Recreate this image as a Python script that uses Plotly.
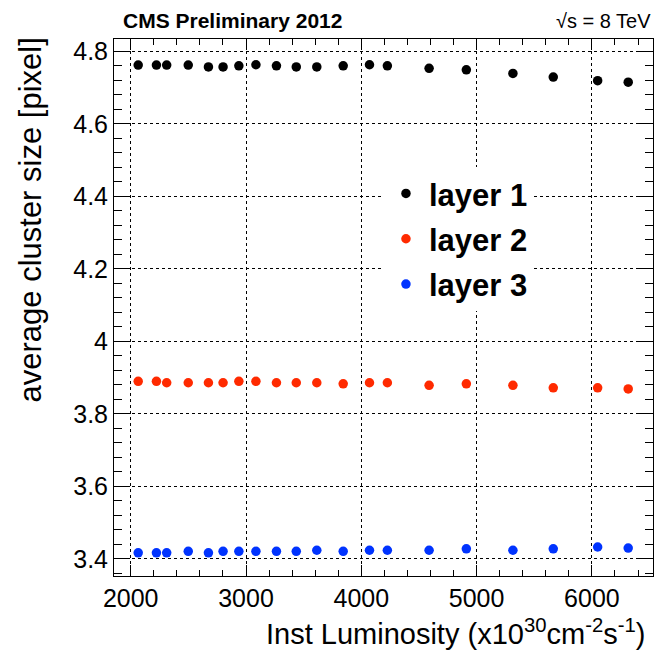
import plotly.graph_objects as go

lumi = [2065, 2223, 2312, 2499, 2674, 2801, 2938, 3086, 3264, 3436,
        3614, 3843, 4071, 4226, 4588, 4911, 5315, 5665, 6050, 6315]
layer1 = [4.762, 4.762, 4.762, 4.762, 4.757, 4.757, 4.760, 4.763, 4.760, 4.757,
          4.757, 4.760, 4.763, 4.760, 4.753, 4.749, 4.739, 4.729, 4.719, 4.715]
layer2 = [3.890, 3.890, 3.886, 3.886, 3.886, 3.886, 3.890, 3.890, 3.886, 3.886,
          3.886, 3.883, 3.886, 3.886, 3.879, 3.883, 3.879, 3.872, 3.872, 3.869]
layer3 = [3.417, 3.417, 3.417, 3.421, 3.417, 3.421, 3.421, 3.421, 3.421, 3.421,
          3.424, 3.421, 3.424, 3.424, 3.424, 3.428, 3.424, 3.428, 3.433, 3.430]
names = ["layer 1", "layer 2", "layer 3"]
colors = ["#000000", "#ff2a00", "#0033ff"]

FONT = "Liberation Sans, Arial, Helvetica, sans-serif"

fig = go.Figure()
for i, (name, vals, col) in enumerate(zip(names, [layer1, layer2, layer3], colors)):
    fig.add_trace(go.Scatter(x=lumi, y=vals, mode="markers", name=name,
                             legendgroup=name,
                             marker=dict(color=col, size=9.5, line=dict(width=0))))

axis_common = dict(showline=True, linecolor="black", linewidth=1, mirror="ticks",
                   ticks="inside", tickcolor="black", tickwidth=1,
                   showgrid=True, gridcolor="black", gridwidth=1, griddash="dot",
                   zeroline=False, tickfont=dict(family=FONT, size=25, color="black"))

fig.update_xaxes(range=[1855, 6530], tick0=2000, dtick=1000, ticklen=11,
                 minor=dict(ticks="inside", ticklen=6, dtick=200, tick0=2000,
                            tickcolor="black", showgrid=False),
                 **axis_common)
fig.update_yaxes(range=[3.353, 4.834], tick0=3.4, dtick=0.2, ticklen=16,
                 minor=dict(ticks="inside", ticklen=8, dtick=0.04, tick0=3.4,
                            tickcolor="black", showgrid=False),
                 **axis_common)

fig.update_layout(
    width=656, height=656,
    margin=dict(l=114, r=3, t=39, b=80),
    paper_bgcolor="white", plot_bgcolor="white",
    font=dict(family=FONT, color="black"),
    showlegend=True,
    legend=dict(x=0.499, y=0.762, xanchor="left", yanchor="top",
                bgcolor="white", borderwidth=0,
                font=dict(family=FONT, size=31, color="black", weight="bold"),
                tracegroupgap=2, itemwidth=36, entrywidth=150),
    annotations=[
        dict(text="<b>CMS Preliminary 2012</b>", xref="paper", yref="paper",
             x=(121 - 114) / 539, y=(576 - 21) / 537, xanchor="left", yanchor="middle",
             showarrow=False, font=dict(family=FONT, size=21, color="black")),
        dict(text="√s = 8 TeV", xref="paper", yref="paper",
             x=1.0, y=(576 - 21) / 537, xanchor="right", yanchor="middle",
             showarrow=False, font=dict(family=FONT, size=20, color="black")),
        dict(text="Inst Luminosity (x10<sup>30</sup>cm<sup>-2</sup>s<sup>-1</sup>)",
             xref="paper", yref="paper", x=(647 - 114) / 539, y=(576 - 632) / 537,
             xanchor="right", yanchor="middle", showarrow=False,
             font=dict(family=FONT, size=29, color="black")),
        dict(text="average cluster size [pixel]", xref="paper", yref="paper",
             x=(30 - 114) / 539, y=(576 - 36) / 537, xanchor="center", yanchor="top",
             textangle=-90, showarrow=False,
             font=dict(family=FONT, size=31, color="black")),
    ],
)

fig.write_html("out.html")
